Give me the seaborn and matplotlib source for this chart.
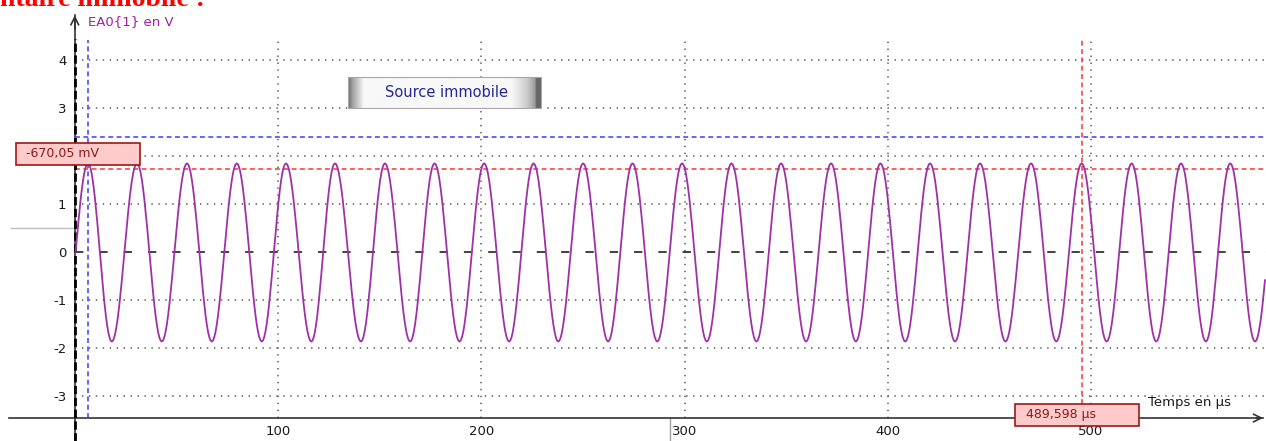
import numpy as np
import pandas as pd
import matplotlib
matplotlib.use("Agg")
import matplotlib.pyplot as plt
from matplotlib.patches import Rectangle
import seaborn as sns

# signal: times of maxima / minima (µs) and their levels (V)
peak_times = [6.5, 30.6, 55.2, 79.7, 103.9, 128.0, 152.6, 177.0, 201.4, 225.7,
              250.1, 274.4, 298.8, 323.1, 347.5, 372.1, 396.4, 420.8, 445.4,
              470.5, 495.4, 520.0, 544.3, 568.5, 593.0]
trough_times = [-5.7, 18.2, 42.8, 67.4, 92.0, 116.4, 140.8, 165.0, 189.3, 213.7,
                237.9, 262.4, 286.6, 311.0, 335.4, 359.8, 384.3, 408.6, 433.1,
                457.9, 482.9, 507.7, 532.1, 556.5, 580.7]
peak_level = 1.85
trough_level = -1.87

# cursors / markers
cursor_blue_t = 6.5
cursor_blue_v = 2.39
cursor_red_t = 495.4
cursor_red_v = 1.73
gray_mark_v = 0.51
gray_mark_t = 292.9

x_ticks = [100, 200, 300, 400, 500]
y_ticks = [-3, -2, -1, 0, 1, 2, 3, 4]
# "2" is hidden behind the cursor value box on the screen
y_tick_labels = ["-3", "-2", "-1", "0", "1", "", "3", "4"]

x_min, x_max = -36.8, 586.1
y_min, y_max = -3.946, 5.26
x_axis_v = -3.466
grid_top = 4.49


def build_signal():
    ext = sorted([(t, peak_level) for t in peak_times] +
                 [(t, trough_level) for t in trough_times])
    ts, vs = [], []
    for (t0, v0), (t1, v1) in zip(ext[:-1], ext[1:]):
        s = np.linspace(0, 1, 20, endpoint=False)
        ts.append(t0 + s * (t1 - t0))
        vs.append((v0 + v1) / 2 + (v0 - v1) / 2 * np.cos(np.pi * s))
    t = np.concatenate(ts)
    v = np.concatenate(vs)
    keep = (t >= 0) & (t <= x_max)
    return pd.DataFrame({"t": t[keep], "v": v[keep]})


sns.set_style("white")
plt.rcParams["font.family"] = ["DejaVu Sans"]
plt.rcParams["lines.scale_dashes"] = False

fig = plt.figure(figsize=(12.66, 4.41), dpi=100)
ax = fig.add_axes([0, 0, 1, 1])
ax.set_facecolor("white")

# grid
dot = (0, (1.0, 4.0))
ax.vlines(x_ticks, x_axis_v, grid_top, colors="#555555", linestyles=[dot], linewidth=1.1, zorder=1)
ax.hlines([y for y in y_ticks if y != 0], 0, x_max, colors="#555555", linestyles=[dot], linewidth=1.1, zorder=1)

# zero line
ax.hlines(0, 0, x_max, colors="#333333", linestyles=[(0, (6.0, 11.5))], linewidth=1.3, zorder=2)

# cursors
blue_dash = (0, (3.5, 2.5))
ax.vlines(cursor_blue_t, x_axis_v, 4.43, colors="#3a3aff", linestyles=[blue_dash], linewidth=1.1, zorder=3)
ax.hlines(cursor_blue_v, 0, x_max, colors="#3a3aff", linestyles=[blue_dash], linewidth=1.1, zorder=3)
ax.vlines(cursor_red_t, -3.17, 4.43, colors="#ff3030", linestyles=[blue_dash], linewidth=1.1, zorder=3)
ax.hlines(cursor_red_v, 0, x_max, colors="#ff3030", linestyles=[blue_dash], linewidth=1.1, zorder=3)

# small gray markers
ax.hlines(gray_mark_v, -32, 0, colors="#c0c0c0", linewidth=1.0, zorder=2)
ax.vlines(gray_mark_t, y_min, x_axis_v, colors="#a0a0a0", linewidth=1.0, zorder=2)

# signal
df = build_signal()
sns.lineplot(data=df, x="t", y="v", ax=ax, color="#a030a8", linewidth=1.3,
             estimator=None, sort=False, zorder=4)

# axes like the acquisition software
for side in ["top", "right"]:
    ax.spines[side].set_visible(False)
ax.spines["left"].set_position(("data", 0))
ax.spines["left"].set_bounds(y_min, 4.95)
ax.spines["bottom"].set_position(("data", x_axis_v))
ax.spines["bottom"].set_bounds(-32.4, 584.5)
for side in ["left", "bottom"]:
    ax.spines[side].set_color("#333333")
    ax.spines[side].set_linewidth(1.2)
ax.vlines(0, y_min, 4.45, colors="black", linestyles=[(0, (6, 2.5))], linewidth=2.0, zorder=3)

ax.annotate("", xy=(0, 5.0), xytext=(0, 4.6),
            arrowprops=dict(arrowstyle="->", color="#333333", lw=1.2, mutation_scale=14))
ax.annotate("", xy=(586.0, x_axis_v), xytext=(580, x_axis_v),
            arrowprops=dict(arrowstyle="->", color="#333333", lw=1.2, mutation_scale=14))

ax.set_xticks(x_ticks)
ax.set_xticklabels([str(x) for x in x_ticks])
ax.set_yticks(y_ticks)
ax.set_yticklabels(y_tick_labels)
ax.tick_params(axis="both", length=0, labelsize=9.5, labelcolor="#1a1a1a")
ax.tick_params(axis="x", pad=5)
ax.tick_params(axis="y", pad=6)
ax.set_xlabel("")
ax.set_ylabel("")

ax.text(6.5, 4.81, "EA0{1} en V", color="#a020a0", fontsize=9.5, va="center", ha="left")
ax.text(528, -3.15, "Temps en µs", color="#1a1a1a", fontsize=9.5, va="center", ha="left")

# cursor value boxes
ax.add_patch(Rectangle((-28.9, 1.816), 61.0, 0.46, facecolor="#ffcaca",
                       edgecolor="#a01818", linewidth=1.2, zorder=6, clip_on=False))
ax.text(-24.0, 2.046, "-670,05 mV", color="#8b1a1a", fontsize=9, va="center", ha="left", zorder=7)
ax.add_patch(Rectangle((462.6, -3.633), 61.0, 0.46, facecolor="#ffcaca",
                       edgecolor="#a01818", linewidth=1.2, zorder=6, clip_on=False))
ax.text(468.0, -3.403, "489,598 µs", color="#8b1a1a", fontsize=9, va="center", ha="left", zorder=7)

# "Source immobile" button
stops_x = [0, 0.02, 0.08, 0.85, 0.93, 0.97, 0.98, 1.0]
stops_c = [0.42, 0.62, 0.97, 0.97, 0.80, 0.62, 0.40, 0.40]
prof = np.interp(np.linspace(0, 1, 200), stops_x, stops_c)
ax.imshow(np.tile(prof, (10, 1)), extent=[134.5, 229.4, 3.006, 3.653], aspect="auto",
          cmap="gray", vmin=0, vmax=1, zorder=6, interpolation="bilinear")
ax.add_patch(Rectangle((134.5, 3.006), 94.9, 0.647, facecolor="none",
                       edgecolor="#a8a8a8", linewidth=0.8, zorder=6))
ax.text(182.7, 3.32, "Source immobile", color="#25259a", fontsize=10.5,
        va="center", ha="center", zorder=7)

ax.set_xlim(x_min, x_max)
ax.set_ylim(y_min, y_max)

# heading of the page, cut by the screenshot
fig.text(0.0, 1 - 6 / 441, "ntaire immobile :", color="#ff0000", fontsize=20,
         fontweight="bold", family=["Liberation Serif", "DejaVu Serif"], va="baseline", ha="left")

fig.savefig("out.png", dpi=100)
